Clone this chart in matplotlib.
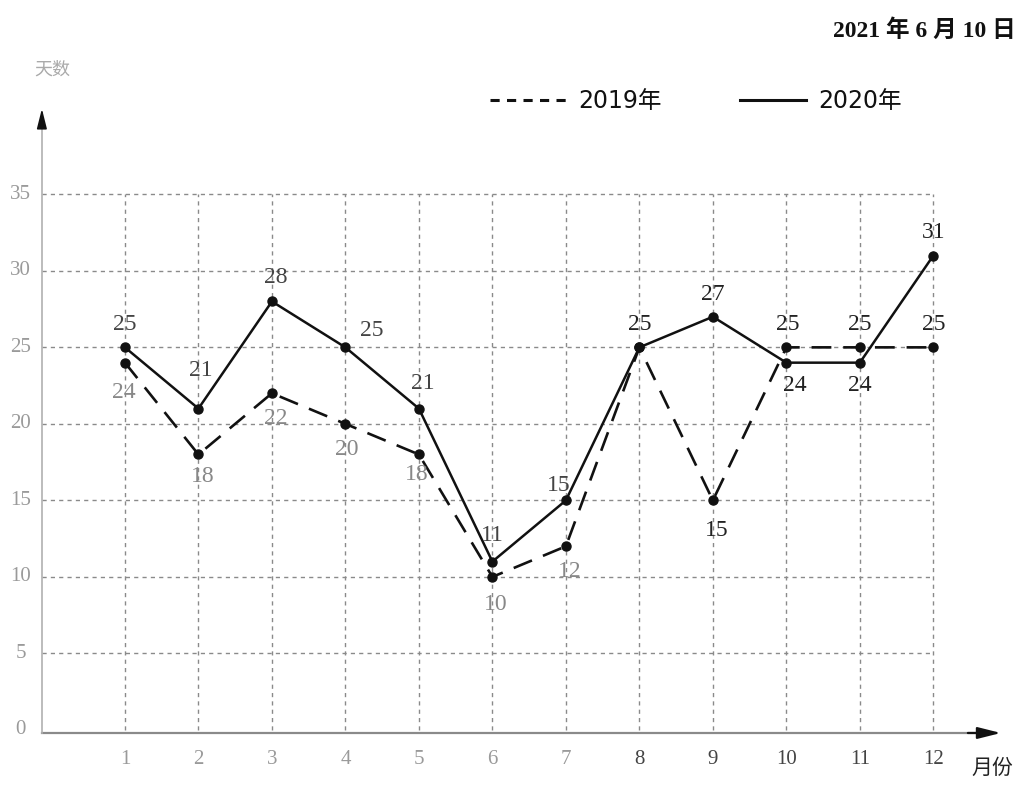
import matplotlib
matplotlib.use("Agg")
import matplotlib.pyplot as plt

plt.rcParams['font.family'] = ['Liberation Serif', 'Noto Sans CJK SC', 'DejaVu Sans']

# ---- data ----
months = [1, 2, 3, 4, 5, 6, 7, 8, 9, 10, 11, 12]
days_2019 = [24, 18, 22, 20, 18, 10, 12, 25, 15, 25, 25, 25]
days_2020 = [25, 21, 28, 25, 21, 11, 15, 25, 27, 24, 24, 31]
y_ticks = [0, 5, 10, 15, 20, 25, 30, 35]
x_tick_labels = [str(m) for m in months]
legend_labels = ["2019年", "2020年"]
date_text = "2021 年 6 月 10 日"
y_axis_title = "天数"
x_axis_title = "月份"

# label placement (pixel offsets from each point)
off_2020 = [(0, 23), (2, 38), (4, 24), (26, 17), (4, 25), (0, 26),
            (-7, 15), (0, 23), (0, 22), (8, -23), (0, -23), (0, 23)]
off_2019 = [(-1, -30), (4, -22), (4, -25), (1, -26), (-2, -20), (3, -28),
            (4, -25), None, (4, -30), (1, 23), (0, 23), (0, 23)]

W, H = 1023, 787
fig = plt.figure(figsize=(W / 100, H / 100), dpi=100)
ax = fig.add_axes([0, 0, 1, 1])
ax.set_xlim(-0.70, 13.22)
ax.set_ylim(-3.73, 47.7)
ax.axis('off')

x_axis_pos = -0.13
grid_kw = dict(color='#8a8a8a', lw=1.0, linestyle=(0, (3, 3)), zorder=1)
for yt in y_ticks[1:]:
    ax.plot([x_axis_pos, months[-1]], [yt, yt], **grid_kw)
for m in months:
    ax.plot([m, m], [0, y_ticks[-1]], **grid_kw)

# axes with arrows
x_tip, y_tip = 12.92, 40.6
ax.plot([x_axis_pos, x_tip - 0.2], [-0.2, -0.2], color='#8a8a8a', lw=1.6, zorder=2)
ax.plot([x_axis_pos, x_axis_pos], [-0.2, y_tip - 0.8], color='#b0b0b0', lw=1.2, zorder=2)
ax.annotate('', xy=(x_tip, -0.2), xytext=(x_tip - 0.45, -0.2), annotation_clip=False,
            arrowprops=dict(arrowstyle='-|>,head_length=1.4,head_width=0.35',
                            color='#111111', lw=1.6, shrinkA=0, shrinkB=0), zorder=3)
ax.annotate('', xy=(x_axis_pos, y_tip), xytext=(x_axis_pos, y_tip - 1.1),
            annotation_clip=False,
            arrowprops=dict(arrowstyle='-|>,head_length=1.2,head_width=0.3',
                            color='#111111', lw=1.2, shrinkA=0, shrinkB=0), zorder=3)

# tick labels
for yt in y_ticks:
    ax.text(-0.42, yt, str(yt), ha='center', va='center', fontsize=15,
            color='#9a9a9a')
for m, lab in zip(months, x_tick_labels):
    ax.text(m, -1.95, lab, ha='center', va='center', fontsize=15,
            color='#9a9a9a' if m < 8 else '#444444')

# series
ax.plot(months, days_2020, color='#111111', lw=1.8, marker='o', ms=6.5,
        zorder=5, solid_joinstyle='round')
ax.plot(months, days_2019, color='#111111', lw=1.9, linestyle=(0, (7.5, 4.5)),
        marker='o', ms=6.5, zorder=4)

for m, v, off in zip(months, days_2020, off_2020):
    c = '#444444' if m < 8 else '#222222'
    ax.annotate(str(v), (m, v), xytext=off, textcoords='offset pixels',
                ha='center', va='center', fontsize=17, color=c, zorder=6)
for m, v, off in zip(months, days_2019, off_2019):
    if off is None:
        continue
    c = '#888888' if m < 8 else '#222222'
    ax.annotate(str(v), (m, v), xytext=off, textcoords='offset pixels',
                ha='center', va='center', fontsize=17, color=c, zorder=6)

# legend
def fx(px):
    return px / W

def fy(py):
    return 1 - py / H

fig.add_artist(plt.Line2D([fx(490), fx(566)], [fy(100), fy(100)],
                          color='#111111', lw=2.2, linestyle=(0, (3.0, 2.4))))
fig.text(fx(578), fy(101), legend_labels[0], fontsize=17, ha='left', va='center',
         family=['DejaVu Sans', 'Noto Sans CJK SC'], color='#111111')
fig.add_artist(plt.Line2D([fx(740), fx(806)], [fy(100), fy(100)],
                          color='#111111', lw=2.2))
fig.text(fx(818), fy(101), legend_labels[1], fontsize=17, ha='left', va='center',
         family=['DejaVu Sans', 'Noto Sans CJK SC'], color='#111111')

fig.text(fx(1016), fy(31), date_text, fontsize=17, ha='right', va='center',
         fontweight='bold', color='#111111')
fig.text(fx(52), fy(70), y_axis_title, fontsize=13, ha='center', va='center',
         family=['Noto Sans CJK SC'], color='#aaaaaa')
fig.text(fx(992), fy(768), x_axis_title, fontsize=15, ha='center', va='center',
         family=['Noto Sans CJK SC'], color='#222222')

fig.savefig('out.png', dpi=100)
